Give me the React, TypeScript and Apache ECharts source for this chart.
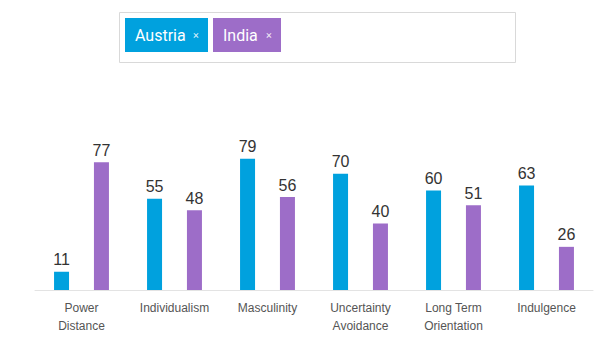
import React, { useEffect, useRef } from "react";
import * as echarts from "echarts";

const categories = [
  "Power\nDistance",
  "Individualism",
  "Masculinity",
  "Uncertainty\nAvoidance",
  "Long Term\nOrientation",
  "Indulgence",
];
const seriesNames = ["Austria", "India"];
const austria = [11, 55, 79, 70, 60, 63];
const india = [77, 48, 56, 40, 51, 26];
const colors = ["#00A1DE", "#9D6DC8"];

export default function App() {
  const ref = useRef<HTMLDivElement>(null);
  useEffect(() => {
    if (!ref.current) return;
    const chart = echarts.init(ref.current, undefined, { renderer: "svg" });
    const tagX = [125, 213];
    const tagW = [83, 68];
    const graphic: any[] = [
      {
        type: "rect",
        shape: { x: 119.5, y: 12.5, width: 396, height: 50 },
        style: { fill: "#fff", stroke: "#d9d9d9", lineWidth: 1 },
      },
    ];
    seriesNames.forEach((n, i) => {
      graphic.push({
        type: "rect",
        shape: { x: tagX[i], y: 18, width: tagW[i], height: 34 },
        style: { fill: colors[i] },
      });
      graphic.push({
        type: "text",
        x: tagX[i] + 10,
        y: 35,
        style: {
          text: n,
          fill: "#fff",
          font: "16px Roboto, 'Noto Sans', sans-serif",
          verticalAlign: "middle",
        },
      });
      graphic.push({
        type: "text",
        x: tagX[i] + tagW[i] - 15,
        y: 35,
        style: {
          text: "×",
          fill: "rgba(255,255,255,0.85)",
          font: "11px Roboto, sans-serif",
          verticalAlign: "middle",
        },
      });
    });
    chart.setOption({
      animation: false,
      grid: { left: 35, right: 7, top: 124, bottom: 67, containLabel: false },
      graphic,
      xAxis: {
        type: "category",
        data: categories,
        axisLine: { lineStyle: { color: "#e3e3e3", width: 1 } },
        axisTick: { show: false },
        axisLabel: {
          color: "#555",
          fontSize: 12,
          lineHeight: 18,
          margin: 9,
          fontFamily: "'Liberation Sans', Arial, sans-serif",
          interval: 0,
        },
      },
      yAxis: {
        type: "value",
        min: 0,
        max: 100,
        show: false,
        splitLine: { show: false },
      },
      series: [austria, india].map((d, i) => ({
        type: "bar",
        name: seriesNames[i],
        data: d,
        barWidth: 15,
        barGap: "166%",
        itemStyle: { color: colors[i] },
        label: {
          show: true,
          position: "top",
          distance: 4,
          color: "#333",
          fontSize: 16,
          fontFamily: "'Liberation Sans', Arial, sans-serif",
        },
      })),
    });
    return () => chart.dispose();
  }, []);
  return (
    <div
      ref={ref}
      style={{ position: "absolute", left: 0, top: 0, width: 600, height: 357 }}
    />
  );
}
